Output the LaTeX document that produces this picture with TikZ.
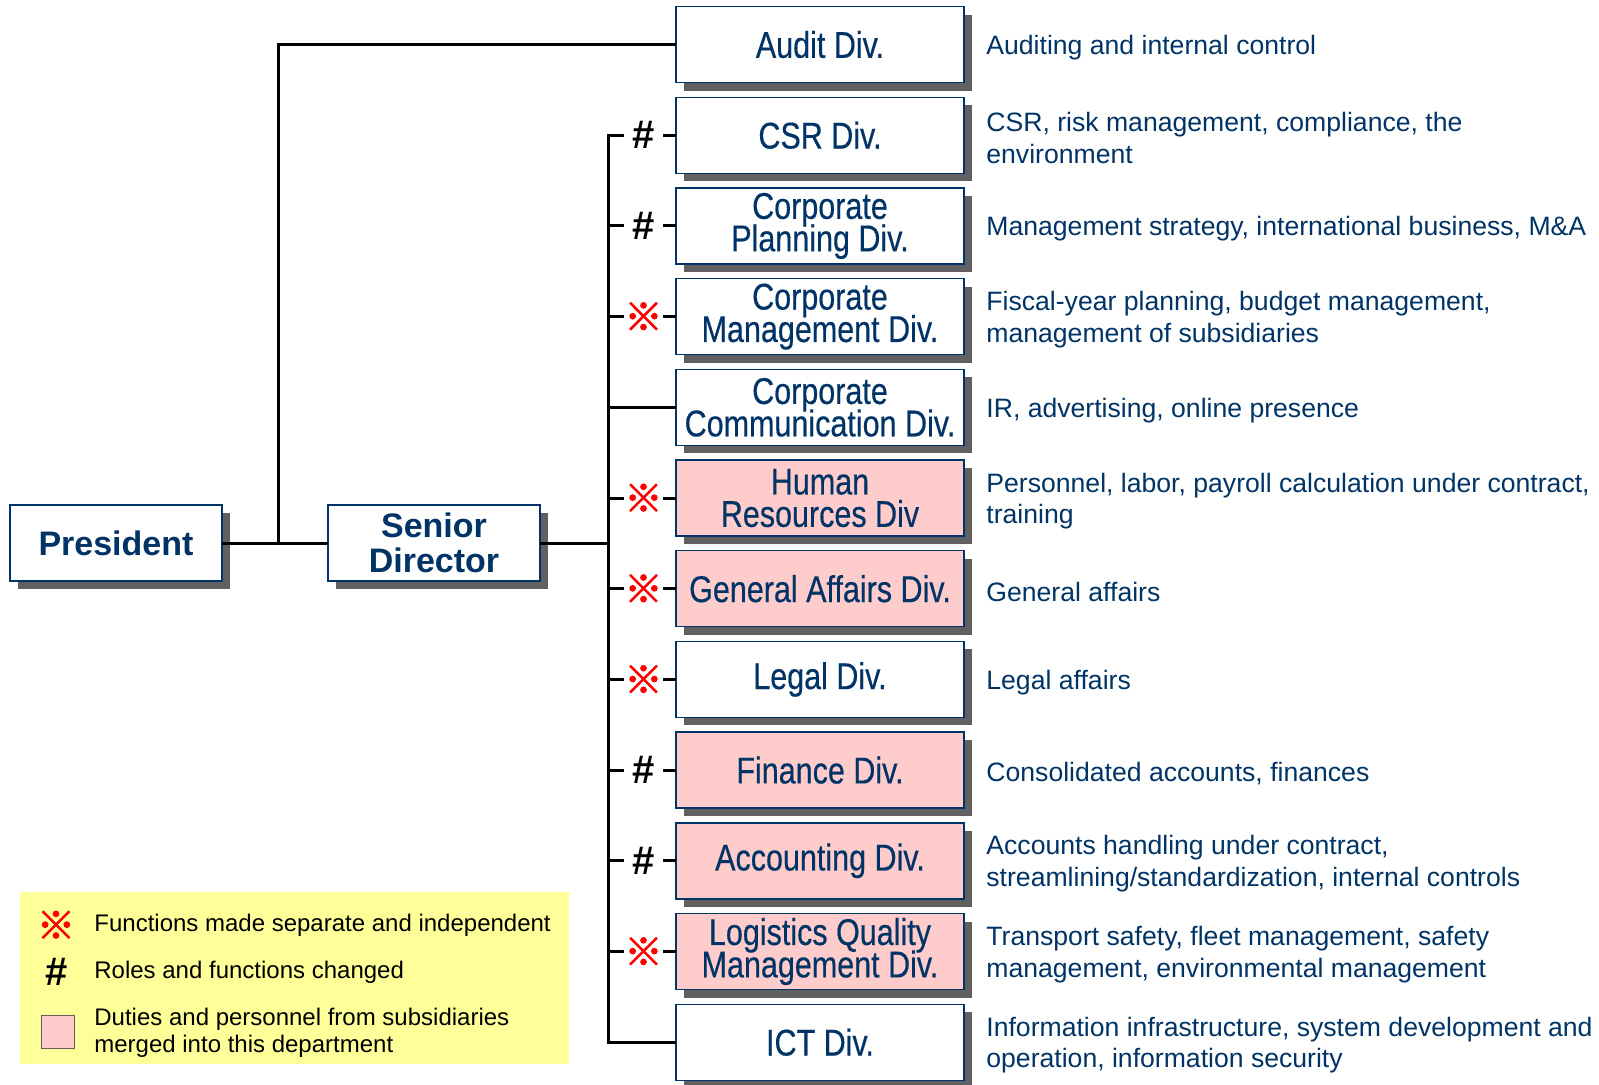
\documentclass[tikz,border=0pt]{standalone}
\usepackage{fontspec}
\setmainfont{Liberation Sans}
\newfontfamily\narrowfont[FakeStretch=0.82,FakeBold=0.4]{Liberation Sans}
\newfontfamily\cjkfont[FakeBold=2.5]{Noto Sans CJK JP}
\usetikzlibrary{positioning,shadows}

\definecolor{navy}{HTML}{003366}
\definecolor{shade}{HTML}{606060}
\definecolor{pinkfill}{HTML}{FFCCCC}
\definecolor{legendbg}{HTML}{FFFF99}

% let two-line labels sit closer than the glyphs allow
\lineskiplimit=-20pt

\tikzset{
  box/.style={draw=navy, line width=0.7pt, outer sep=0pt, fill=white, text=navy, align=center, inner sep=1pt,
    drop shadow={shadow xshift=4pt, shadow yshift=-4pt, fill=shade, opacity=1}},
  divbox/.style={box, minimum width=144pt, minimum height=38pt,
    font=\narrowfont\fontsize{18.6}{16.2}\selectfont},
  headbox/.style={box, minimum width=106pt, minimum height=38pt,
    font=\bfseries\fontsize{17}{17.3}\selectfont},
  mergedbox/.style={divbox, fill=pinkfill},
  note/.style={text=navy, align=left, inner sep=0pt, yshift=-1.5pt, font=\fontsize{13.3}{15.8}\selectfont},
  link/.style={line width=1.5pt},
  sepmark/.style={fill=white, text=red, inner sep=0pt, minimum width=19.5pt, minimum height=16pt,
    font=\cjkfont\fontsize{19}{19}\selectfont},
  chgmark/.style={fill=white, inner sep=0pt, minimum width=19.5pt, minimum height=16pt,
    font=\bfseries\fontsize{20}{20}\selectfont},
  keytext/.style={anchor=west, align=left, inner sep=0pt, font=\fontsize{12}{13.3}\selectfont},
}

\begin{document}
\begin{tikzpicture}[x=0.5pt, y=-0.5pt, node distance=7.35pt]
    \useasboundingbox (0,0) rectangle (1599,1084);

    % Top of the chart
    \node (pres) [headbox] at (116,543) {President};
    \node (sen) [headbox] at (434,543) {Senior\\Director};

    % Divisions
    \node (audit) [divbox] at (820,44.5) {Audit Div.};
    \node (csr) [divbox, below=of audit] {CSR Div.};
    \node (plan) [divbox, below=of csr] {Corporate\\Planning Div.};
    \node (mgmt) [divbox, below=of plan] {Corporate\\Management Div.};
    \node (comm) [divbox, below=of mgmt] {Corporate\\Communication Div.};
    \node (hr) [mergedbox, below=of comm] {Human\\Resources Div};
    \node (ga) [mergedbox, below=of hr] {General Affairs Div.};
    \node (legal) [divbox, below=of ga] {Legal Div.};
    \node (fin) [mergedbox, below=of legal] {Finance Div.};
    \node (acct) [mergedbox, below=of fin] {Accounting Div.};
    \node (lqm) [mergedbox, below=of acct] {Logistics Quality\\Management Div.};
    \node (ict) [divbox, below=of lqm] {ICT Div.};

    % Duties
    \node [note, right=11pt of audit] {Auditing and internal control};
    \node [note, right=11pt of csr] {CSR, risk management, compliance, the\\environment};
    \node [note, right=11pt of plan] {Management strategy, international business, M\&A};
    \node [note, right=11pt of mgmt] {Fiscal-year planning, budget management,\\management of subsidiaries};
    \node [note, right=11pt of comm] {IR, advertising, online presence};
    \node [note, right=11pt of hr] {Personnel, labor, payroll calculation under contract,\\training};
    \node [note, right=11pt of ga] {General affairs};
    \node [note, right=11pt of legal] {Legal affairs};
    \node [note, right=11pt of fin] {Consolidated accounts, finances};
    \node [note, right=11pt of acct] {Accounts handling under contract,\\streamlining/standardization, internal controls};
    \node [note, right=11pt of lqm] {Transport safety, fleet management, safety\\management, environmental management};
    \node [note, right=11pt of ict] {Information infrastructure, system development and\\operation, information security};

    % Lines
    \coordinate (split) at (278.5,543);
    \coordinate (trunk) at (608,543);
    \draw [link] (pres.east) -- (sen.west);
    \draw [link] (audit.west) -| (split);
    \draw [link] (sen.east) -- (trunk);
    \draw [link] (csr.west) -- (trunk |- csr.west) -- (trunk |- ict.west) -- (ict.west);
    \draw [link] (trunk |- plan.west) -- (plan.west);
    \draw [link] (trunk |- mgmt.west) -- (mgmt.west);
    \draw [link] (trunk |- comm.west) -- (comm.west);
    \draw [link] (trunk |- hr.west) -- (hr.west);
    \draw [link] (trunk |- ga.west) -- (ga.west);
    \draw [link] (trunk |- legal.west) -- (legal.west);
    \draw [link] (trunk |- fin.west) -- (fin.west);
    \draw [link] (trunk |- acct.west) -- (acct.west);
    \draw [link] (trunk |- lqm.west) -- (lqm.west);

    % Markers on the lines
    \node [chgmark] at ([xshift=-16.25pt]csr.west) {\#};
    \node [chgmark] at ([xshift=-16.25pt]plan.west) {\#};
    \node [sepmark] at ([xshift=-16.25pt]mgmt.west) {※};
    \node [sepmark] at ([xshift=-16.25pt]hr.west) {※};
    \node [sepmark] at ([xshift=-16.25pt]ga.west) {※};
    \node [sepmark] at ([xshift=-16.25pt]legal.west) {※};
    \node [chgmark] at ([xshift=-16.25pt]fin.west) {\#};
    \node [chgmark] at ([xshift=-16.25pt]acct.west) {\#};
    \node [sepmark] at ([xshift=-16.25pt]lqm.west) {※};

    % Legend
    \fill [legendbg] (20,892) rectangle (569,1064);
    \node (keysep) [sepmark, fill=none] at (56,925) {※};
    \node [keytext] at (94,925) {Functions made separate and independent};
    \node (keychg) [chgmark, fill=none] at (57,972) {\#};
    \node [keytext] at (94,972) {Roles and functions changed};
    \node (keymerged) [draw=shade, fill=pinkfill, minimum size=16.5pt, inner sep=0pt] at (57.5,1031.5) {};
    \node [keytext] at (94,1033) {Duties and personnel from subsidiaries\\merged into this department};
\end{tikzpicture}
\end{document}
